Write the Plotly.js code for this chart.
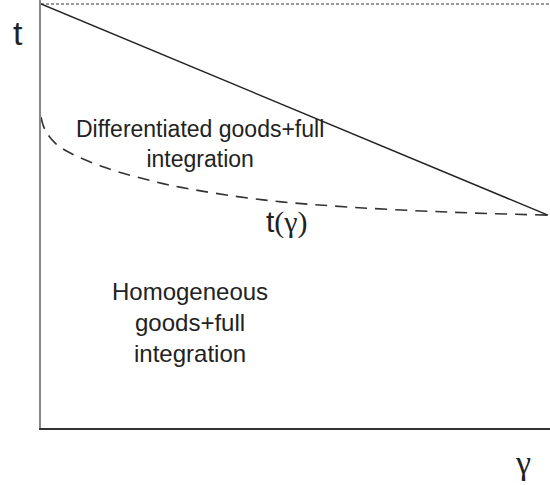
<!DOCTYPE html>
<html>
<head>
<meta charset="utf-8">
<script src="https://cdn.plot.ly/plotly-3.0.1.min.js"></script>
<style>html,body{margin:0;padding:0;background:#fff}#chart{width:550px;height:485px}</style>
</head>
<body>
<div id="chart"></div>
<script>
// gamma axis (0..1) and t axis (0..1)
var solidX = [0, 1];
var solidT = [1, 0.502];
var curveX = [0, 0.008, 0.028, 0.057, 0.122, 0.195, 0.274, 0.438, 0.609, 0.807, 1];
var curveT = [0.733, 0.703, 0.672, 0.649, 0.616, 0.590, 0.568, 0.538, 0.521, 0.509, 0.502];
var topX = [0, 1.004];
var topT = [1, 1];
var serif = "'Liberation Serif', 'DejaVu Serif', serif";
var labels = {
  yTitle: 't',
  xTitle: '<span style="font-family:' + serif.replace(/'/g, '') + '">\u03b3</span>',
  curve: 't<span style="font-family:' + serif.replace(/'/g, '') + '">(\u03b3)</span>',
  upper: 'Differentiated goods+full<br>integration',
  lower: 'Homogeneous<br>goods+full<br>integration'
};

// pixel -> data / paper helpers for label placement
function dx(px){ return (px - 41) / 507; }
function dy(py){ return (428 - py) / 424; }
function pxp(px){ return (px - 41) / 509; }
function pyp(py){ return (428 - py) / 428; }

var font = "'Liberation Sans', Arial, sans-serif";
var traces = [
  {x: topX, y: topT, mode: 'lines', line: {color: '#999', width: 2, dash: '3px,2px'}, hoverinfo: 'skip'},
  {x: solidX, y: solidT, mode: 'lines', line: {color: '#222', width: 1.5}, hoverinfo: 'skip'},
  {x: curveX, y: curveT, mode: 'lines', line: {color: '#333', width: 1.6, dash: '12px,8px', shape: 'spline'}, hoverinfo: 'skip'}
];

var layout = {
  width: 550, height: 485,
  margin: {l: 41, r: 0, t: 0, b: 57},
  paper_bgcolor: '#fff', plot_bgcolor: '#fff',
  showlegend: false,
  font: {family: font},
  xaxis: {range: [0, 1.004], showgrid: false, zeroline: false, showticklabels: false, ticks: '',
          showline: true, linecolor: '#333', linewidth: 2, fixedrange: true},
  yaxis: {range: [0, 1.0094], showgrid: false, zeroline: false, showticklabels: false, ticks: '',
          showline: true, linecolor: '#888', linewidth: 2.5, fixedrange: true},
  annotations: [
    {x: pxp(17.5), y: pyp(33), xref: 'paper', yref: 'paper', text: labels.yTitle, showarrow: false,
     font: {family: font, size: 34, color: '#222'}, xanchor: 'center', yanchor: 'middle'},
    {x: pxp(523), y: pyp(462), xref: 'paper', yref: 'paper', text: labels.xTitle, showarrow: false,
     font: {family: font, size: 34, color: '#222'}, xanchor: 'center', yanchor: 'middle'},
    {x: dx(287), y: dy(222), xref: 'x', yref: 'y', text: labels.curve, showarrow: false,
     font: {family: font, size: 30, color: '#222'}, xanchor: 'center', yanchor: 'middle'},
    {x: dx(200), y: dy(144), xref: 'x', yref: 'y', text: labels.upper, showarrow: false,
     font: {family: font, size: 23, color: '#222'}, xanchor: 'center', yanchor: 'middle', align: 'center'},
    {x: dx(190), y: dy(322), xref: 'x', yref: 'y', text: labels.lower, showarrow: false,
     font: {family: font, size: 24, color: '#222'}, xanchor: 'center', yanchor: 'middle', align: 'center'}
  ]
};

Plotly.newPlot('chart', traces, layout, {staticPlot: true, displayModeBar: false});
</script>
</body>
</html>
